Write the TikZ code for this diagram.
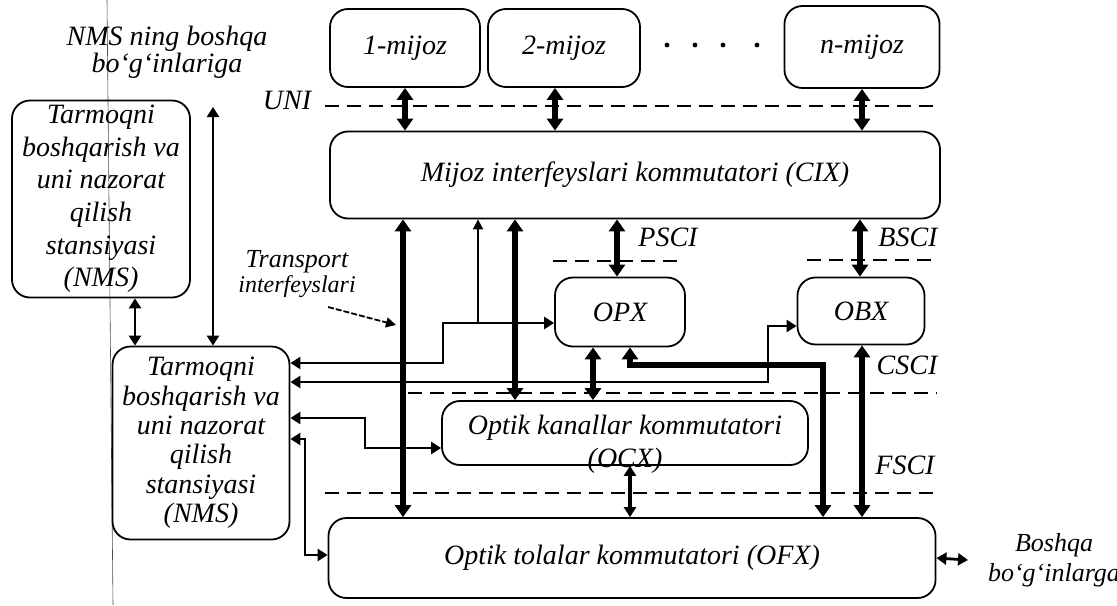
\documentclass[tikz,border=0pt]{standalone}
\usepackage{fontspec}
\setmainfont{Liberation Serif}
\usetikzlibrary{arrows.meta, positioning, calc}

\begin{document}
\begin{tikzpicture}[x=0.5pt, y=-0.5pt,
    box/.style={draw, line width=0.9pt, rounded corners=9pt, align=center,
                inner sep=1pt, font=\fontsize{14}{16}\selectfont\itshape},
    lbl/.style={align=center, inner sep=1pt,
                font=\fontsize{14}{16}\selectfont\itshape},
    sep/.style={line width=1.2pt, dash pattern=on 7pt off 4pt},
    dbl/.style={{Triangle[length=5pt,width=6pt]}-{Triangle[length=5pt,width=6pt]},
                line width=1.4pt},
    fat/.style={{Triangle[length=6pt,width=8pt]}-{Triangle[length=6pt,width=8pt]},
                line width=2.6pt},
    one/.style={-{Triangle[length=5pt,width=5pt]}, line width=0.9pt}
  ]
    \useasboundingbox (0,0) rectangle (1117,605);
    % scan line on the left
    \draw[line width=0.3pt, black!70] (107,0) -- (113,605);

    % clients
    \node[box, minimum width=75pt, minimum height=39pt] (c1) at (405,48) {1-mijoz};
    \node[box, minimum width=76pt, minimum height=39pt] (c2) at (564,48) {2-mijoz};
    \node[box, minimum width=77.5pt, minimum height=41pt] (cn) at (862,47) {n-mijoz};
    \foreach \px in {667,695,723,757}
      \fill (\px,45) circle (1.2pt);

    % switches
    \node[box, minimum width=305pt, minimum height=43.5pt] (cix) at (635,175)
      {Mijoz interfeyslari kommutatori (CIX)};
    \node[box, minimum width=65pt, minimum height=34.5pt] (opx) at (620,312) {OPX};
    \node[box, minimum width=63.5pt, minimum height=33.5pt] (obx) at (861,311) {OBX};
    \node[box, minimum width=183pt, minimum height=32pt] (ocx) at (625,433) {};
    \node[lbl, font=\fontsize{14}{16.5}\selectfont\itshape] (ocxtext) at (625,444)
      {Optik kanallar kommutatori\\(OCX)};
    \node[box, minimum width=303.5pt, minimum height=40pt] (ofx) at (632,558)
      {Optik tolalar kommutatori (OFX)};

    % management stations
    \node[box, minimum width=89pt, minimum height=98.5pt,
          font=\fontsize{14}{16.3}\selectfont\itshape] (nms1) at (101,199)
      {Tarmoqni\\boshqarish va\\uni nazorat\\qilish\\stansiyasi\\(NMS)};
    \node[box, minimum width=88.5pt, minimum height=96.5pt,
          font=\fontsize{14}{14.7}\selectfont\itshape] (nms2) at (201,443)
      {Tarmoqni\\boshqarish va\\uni nazorat\\qilish\\stansiyasi\\(NMS)};

    % labels
    \node[lbl, font=\fontsize{14}{12.5}\selectfont\itshape] (other) at (167,52)
      {NMS ning boshqa\\bo‘g‘inlariga};
    \node[lbl, font=\fontsize{13}{15}\selectfont\itshape] (boshqa) at (1054,560)
      {Boshqa\\bo‘g‘inlarga};
    \node[lbl, font=\fontsize{13}{11}\selectfont\itshape] (tr) at (297,274)
      {Transport\\{\fontsize{12}{11}\selectfont interfeyslari}};
    \node[lbl] (uni) at (287,100) {UNI};
    \node[lbl] (psci) at (668,237) {PSCI};
    \node[lbl] (bsci) at (908,237) {BSCI};
    \node[lbl] (csci) at (907,365) {CSCI};
    \node[lbl] (fsci) at (905,465) {FSCI};

    % interface borders
    \draw[sep] (325,106) -- (940,106);
    \draw[sep] (553,261) -- (683,261);
    \draw[sep] (807,260) -- (937,260);
    \draw[sep] (408,393) -- (937,393);
    \draw[sep] (325,493) -- (937,493);

    % client interfaces
    \foreach \cl/\px in {c1/405, c2/555, cn/862}
      \draw[fat] (\cl.south -| \px,0) -- (cix.north -| \px,0);

    % transport interfaces
    \draw[fat] (cix.south -| 403,0) -- (ofx.north -| 403,0);
    \draw[fat] (cix.south -| 515,0) -- (ocx.north -| 515,0);
    \draw[fat] (cix.south -| 617,0) -- (opx.north -| 617,0);
    \draw[fat] (cix.south -| 860,0) -- (obx.north -| 860,0);
    \draw[fat] (opx.south -| 593,0) -- (ocx.north -| 593,0);
    \draw[fat] (ofx.north -| 823,0) |- (630,365) -- (opx.south -| 630,0);
    \draw[fat] (obx.south -| 862,0) -- (ofx.north -| 862,0);
    \draw[dbl, line width=2pt] (ocx.south -| 630,0) -- (ofx.north -| 630,0);
    \draw[dbl] (ofx.east) -- (968,560);

    % management links
    \coordinate (up) at (213,107);
    \draw[dbl] (nms2.north -| up) -- (up);
    \draw[dbl] (nms1.south -| 135,0) -- (nms2.north -| 135,0);
    \draw[dbl] (nms2.east |- 0,363) -| (443,323) -- (opx.west |- 0,323);
    \coordinate (br) at (478,323);
    \draw[one] (br) -- (cix.south -| br);
    \draw[dbl] (nms2.east |- 0,382) -| (768,326) -- (obx.west |- 0,326);
    \draw[dbl] (nms2.east |- 0,418) -| (365,448) -- (ocx.west |- 0,448);
    \draw[dbl] (nms2.east |- 0,439) -| (305,555) -- (ofx.west |- 0,555);

    % pointer to transport interfaces
    \coordinate (trs) at (328,307);
    \coordinate (tre) at (396,325);
    \draw[one, dash pattern=on 3pt off 1pt] (trs) -- (tre);
  \end{tikzpicture}
\end{document}
